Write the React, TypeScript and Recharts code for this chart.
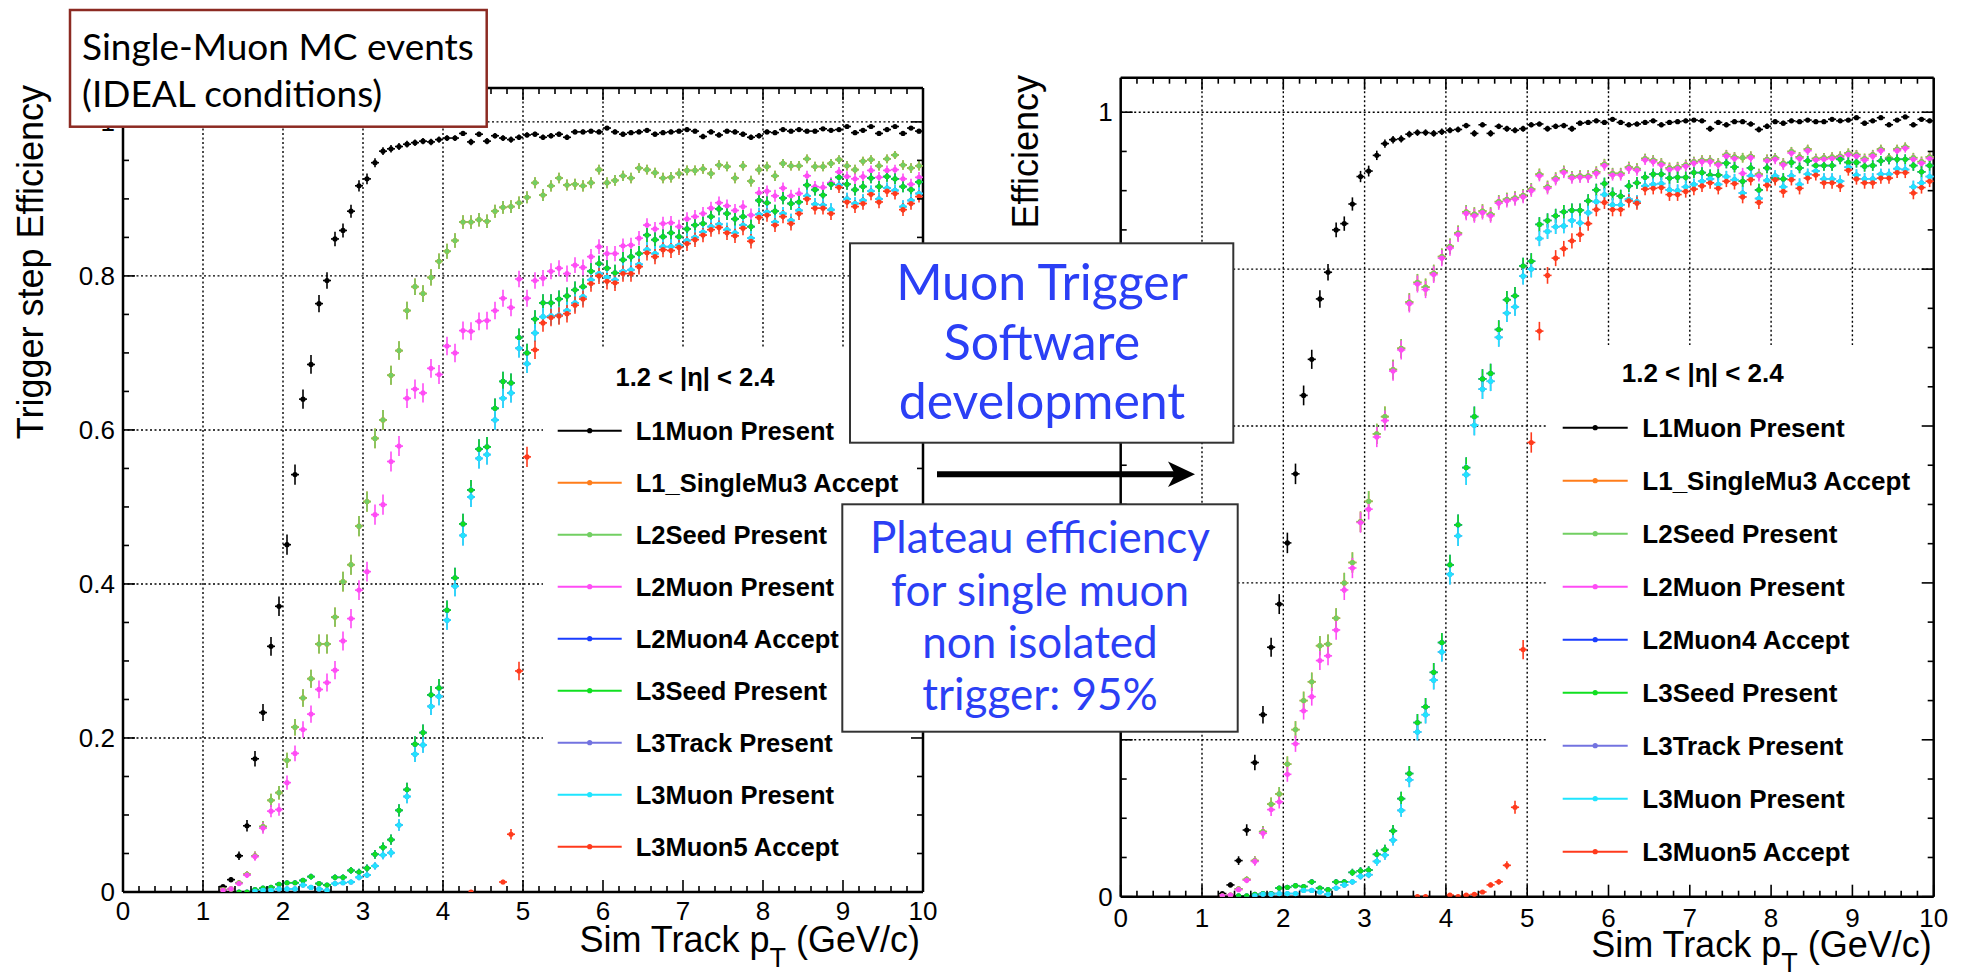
import React from 'react';
import {
  ScatterChart,
  Scatter,
  XAxis,
  YAxis,
  CartesianGrid,
  ErrorBar,
  ReferenceArea,
  ReferenceLine,
} from 'recharts';

const _ = null;

// ---------------------------------------------------------------------------
// Binning: 0.1 GeV/c wide pT bins, centres from 1.25 to 9.95 GeV/c
// ---------------------------------------------------------------------------
const PT_BINS: number[] = Array.from({ length: 88 }, (_v, i) => Math.round((1.25 + 0.1 * i) * 100) / 100);
const BIN_HALF_WIDTH = 0.05;
const EVENTS_PER_BIN = 1450;
const X_MAX = 10;
const Y_MAX = 1.044;

// ---------------------------------------------------------------------------
// Axis ticks and labels
// ---------------------------------------------------------------------------
const X_TICKS: number[] = Array.from({ length: 51 }, (_v, i) => Math.round(i * 0.2 * 100) / 100);
const Y_TICKS: number[] = Array.from({ length: 21 }, (_v, i) => Math.round(i * 0.05 * 100) / 100);
const X_LABELS: string[] = ['0', '1', '2', '3', '4', '5', '6', '7', '8', '9', '10'];
const LEFT_Y_LABELS: { value: number; label: string }[] = [
  { value: 0, label: '0' },
  { value: 0.2, label: '0.2' },
  { value: 0.4, label: '0.4' },
  { value: 0.6, label: '0.6' },
  { value: 0.8, label: '0.8' },
  { value: 1, label: '1' },
];
const RIGHT_Y_LABELS: { value: number; label: string }[] = [
  { value: 0, label: '0' },
  { value: 1, label: '1' },
];
const GRID_X: number[] = [1, 2, 3, 4, 5, 6, 7, 8, 9];
const GRID_Y: number[] = [0.2, 0.4, 0.6, 0.8, 1.0];

// ---------------------------------------------------------------------------
// Trigger steps
// ---------------------------------------------------------------------------
const SERIES_NAMES: string[] = [
  'L1Muon Present',
  'L1_SingleMu3 Accept',
  'L2Seed Present',
  'L2Muon Present',
  'L2Muon4 Accept',
  'L3Seed Present',
  'L3Track Present',
  'L3Muon Present',
  'L3Muon5 Accept',
];
const SERIES_COLORS: string[] = [
  '#000000',
  '#ff7d1a',
  '#72cf62',
  '#ff4cf5',
  '#1a3dff',
  '#10e020',
  '#7373e0',
  '#1fe5ff',
  '#ff3a1c',
];

// ---------------------------------------------------------------------------
// Efficiencies, left panel (before development)
// ---------------------------------------------------------------------------
const LEFT_L1MUON: (number | null)[] = [
  0.007, 0.016, 0.047, 0.086, 0.173, 0.233, 0.319, 0.371, 0.451, 0.542,
  0.640, 0.685, 0.764, 0.794, 0.848, 0.859, 0.884, 0.917, 0.926, 0.947,
  0.962, 0.965, 0.968, 0.971, 0.973, 0.975, 0.974, 0.977, 0.979, 0.979,
  0.985, 0.974, 0.984, 0.975, 0.982, 0.979, 0.977, 0.980, 0.983, 0.984,
  0.980, 0.982, 0.984, 0.980, 0.987, 0.987, 0.988, 0.987, 0.992, 0.987,
  0.984, 0.986, 0.987, 0.989, 0.984, 0.986, 0.987, 0.988, 0.990, 0.988,
  0.981, 0.987, 0.983, 0.988, 0.987, 0.984, 0.980, 0.982, 0.987, 0.986,
  0.990, 0.988, 0.990, 0.988, 0.988, 0.991, 0.989, 0.990, 0.994, 0.986,
  0.989, 0.994, 0.985, 0.990, 0.994, 0.985, 0.992, 0.988,
];
const LEFT_L2SEED: (number | null)[] = [
  0.003, 0.004, 0.012, 0.023, 0.047, 0.085, 0.119, 0.129, 0.171, 0.214,
  0.252, 0.277, 0.322, 0.322, 0.357, 0.403, 0.425, 0.475, 0.507, 0.589,
  0.613, 0.671, 0.703, 0.755, 0.786, 0.777, 0.798, 0.819, 0.832, 0.846,
  0.870, 0.870, 0.873, 0.871, 0.884, 0.889, 0.890, 0.895, 0.902, 0.921,
  0.905, 0.917, 0.927, 0.918, 0.919, 0.917, 0.921, 0.938, 0.921, 0.924,
  0.930, 0.927, 0.940, 0.938, 0.934, 0.927, 0.928, 0.933, 0.937, 0.937,
  0.939, 0.933, 0.944, 0.942, 0.927, 0.943, 0.923, 0.938, 0.942, 0.930,
  0.946, 0.943, 0.943, 0.952, 0.942, 0.942, 0.946, 0.951, 0.943, 0.938,
  0.949, 0.951, 0.943, 0.952, 0.957, 0.944, 0.940, 0.943,
];
const LEFT_L2MUON: (number | null)[] = [
  0.002, 0.004, 0.011, 0.022, 0.046, 0.083, 0.105, 0.107, 0.142, 0.180,
  0.211, 0.231, 0.263, 0.272, 0.288, 0.326, 0.355, 0.392, 0.416, 0.490,
  0.503, 0.559, 0.579, 0.641, 0.653, 0.648, 0.680, 0.672, 0.709, 0.700,
  0.729, 0.728, 0.741, 0.742, 0.755, 0.771, 0.759, 0.796, 0.771, 0.794,
  0.797, 0.806, 0.810, 0.803, 0.814, 0.811, 0.825, 0.838, 0.829, 0.829,
  0.839, 0.840, 0.849, 0.866, 0.861, 0.868, 0.869, 0.864, 0.874, 0.877,
  0.881, 0.888, 0.895, 0.891, 0.885, 0.890, 0.879, 0.908, 0.910, 0.904,
  0.914, 0.904, 0.907, 0.930, 0.916, 0.915, 0.921, 0.935, 0.929, 0.926,
  0.929, 0.937, 0.928, 0.937, 0.938, 0.926, 0.919, 0.928,
];
const LEFT_L3SEED: (number | null)[] = [
  _, _, 0.000, 0.000, 0.003, 0.005, 0.006, 0.010, 0.012, 0.012,
  0.015, 0.020, 0.011, 0.009, 0.019, 0.019, 0.028, 0.026, 0.031, 0.049,
  0.058, 0.068, 0.106, 0.133, 0.192, 0.207, 0.256, 0.265, 0.366, 0.408,
  0.478, 0.522, 0.575, 0.578, 0.628, 0.663, 0.661, 0.720, 0.700, 0.744,
  0.765, 0.765, 0.770, 0.774, 0.782, 0.786, 0.806, 0.816, 0.810, 0.804,
  0.821, 0.825, 0.829, 0.853, 0.847, 0.851, 0.856, 0.851, 0.861, 0.866,
  0.868, 0.877, 0.887, 0.881, 0.874, 0.877, 0.864, 0.898, 0.895, 0.884,
  0.901, 0.894, 0.896, 0.918, 0.912, 0.905, 0.919, 0.928, 0.919, 0.912,
  0.916, 0.927, 0.916, 0.929, 0.926, 0.916, 0.912, 0.922,
];
const LEFT_L3MUON: (number | null)[] = [
  _, _, _, _, 0.001, 0.002, 0.002, 0.004, 0.004, 0.004,
  0.009, 0.006, 0.004, 0.002, 0.011, 0.012, 0.013, 0.019, 0.022, 0.034,
  0.048, 0.051, 0.087, 0.124, 0.179, 0.191, 0.241, 0.254, 0.353, 0.397,
  0.463, 0.513, 0.563, 0.568, 0.613, 0.641, 0.648, 0.706, 0.686, 0.726,
  0.747, 0.748, 0.749, 0.755, 0.765, 0.773, 0.795, 0.803, 0.798, 0.795,
  0.806, 0.808, 0.815, 0.834, 0.829, 0.838, 0.838, 0.840, 0.846, 0.850,
  0.857, 0.864, 0.867, 0.860, 0.856, 0.866, 0.849, 0.880, 0.883, 0.870,
  0.881, 0.872, 0.885, 0.904, 0.893, 0.892, 0.886, 0.918, 0.900, 0.894,
  0.898, 0.910, 0.900, 0.914, 0.911, 0.890, 0.898, 0.907,
];
const LEFT_L3MUON5: (number | null)[] = [
  _, _, _, _, _, _, _, _, _, _,
  _, _, _, _, _, _, _, _, _, _,
  _, _, _, _, _, _, _, _, _, _,
  _, 0.000, _, _, _, 0.013, 0.075, 0.287, 0.565, 0.704,
  0.739, 0.746, 0.748, 0.751, 0.762, 0.770, 0.790, 0.800, 0.793, 0.791,
  0.803, 0.803, 0.812, 0.830, 0.825, 0.834, 0.833, 0.837, 0.842, 0.847,
  0.853, 0.860, 0.863, 0.856, 0.852, 0.862, 0.845, 0.876, 0.879, 0.866,
  0.877, 0.868, 0.881, 0.900, 0.888, 0.888, 0.881, 0.915, 0.896, 0.890,
  0.894, 0.906, 0.896, 0.910, 0.907, 0.886, 0.894, 0.903,
];

// ---------------------------------------------------------------------------
// Efficiencies, right panel (after development)
// ---------------------------------------------------------------------------
const RIGHT_L1MUON: (number | null)[] = [
  0.004, 0.015, 0.046, 0.085, 0.171, 0.232, 0.318, 0.373, 0.451, 0.539,
  0.639, 0.685, 0.762, 0.796, 0.850, 0.858, 0.883, 0.918, 0.925, 0.945,
  0.960, 0.965, 0.966, 0.972, 0.974, 0.974, 0.973, 0.975, 0.977, 0.978,
  0.983, 0.973, 0.984, 0.973, 0.982, 0.979, 0.977, 0.979, 0.984, 0.985,
  0.979, 0.982, 0.983, 0.979, 0.986, 0.987, 0.989, 0.987, 0.991, 0.987,
  0.984, 0.985, 0.987, 0.989, 0.984, 0.987, 0.988, 0.989, 0.990, 0.989,
  0.979, 0.987, 0.984, 0.988, 0.988, 0.985, 0.978, 0.982, 0.988, 0.986,
  0.989, 0.988, 0.990, 0.988, 0.988, 0.991, 0.989, 0.990, 0.993, 0.986,
  0.989, 0.993, 0.984, 0.990, 0.994, 0.984, 0.991, 0.989,
];
const RIGHT_L2SEED: (number | null)[] = [
  0.001, 0.002, 0.010, 0.022, 0.046, 0.083, 0.118, 0.131, 0.169, 0.213,
  0.250, 0.274, 0.320, 0.322, 0.355, 0.400, 0.426, 0.478, 0.504, 0.590,
  0.612, 0.672, 0.699, 0.758, 0.783, 0.777, 0.795, 0.816, 0.829, 0.846,
  0.873, 0.870, 0.874, 0.870, 0.886, 0.889, 0.891, 0.894, 0.902, 0.921,
  0.905, 0.916, 0.925, 0.918, 0.919, 0.919, 0.924, 0.934, 0.922, 0.922,
  0.930, 0.928, 0.941, 0.939, 0.935, 0.929, 0.930, 0.933, 0.937, 0.939,
  0.939, 0.935, 0.946, 0.943, 0.942, 0.944, 0.921, 0.940, 0.942, 0.935,
  0.950, 0.943, 0.953, 0.941, 0.942, 0.943, 0.944, 0.948, 0.946, 0.941,
  0.946, 0.953, 0.942, 0.953, 0.956, 0.942, 0.937, 0.943,
];
const RIGHT_L2MUON: (number | null)[] = [
  0.001, 0.002, 0.009, 0.021, 0.045, 0.081, 0.111, 0.121, 0.156, 0.195,
  0.237, 0.255, 0.301, 0.307, 0.340, 0.391, 0.419, 0.477, 0.494, 0.586,
  0.607, 0.670, 0.697, 0.756, 0.781, 0.774, 0.793, 0.814, 0.827, 0.844,
  0.871, 0.868, 0.872, 0.868, 0.884, 0.887, 0.889, 0.892, 0.900, 0.919,
  0.903, 0.914, 0.923, 0.916, 0.917, 0.917, 0.922, 0.932, 0.920, 0.920,
  0.928, 0.926, 0.939, 0.937, 0.933, 0.927, 0.928, 0.931, 0.935, 0.937,
  0.937, 0.933, 0.944, 0.941, 0.922, 0.942, 0.919, 0.938, 0.940, 0.933,
  0.948, 0.941, 0.951, 0.939, 0.940, 0.941, 0.942, 0.946, 0.944, 0.939,
  0.944, 0.951, 0.940, 0.951, 0.954, 0.940, 0.935, 0.941,
];
const RIGHT_L3SEED: (number | null)[] = [
  _, _, 0.001, 0.001, 0.003, 0.004, 0.004, 0.011, 0.012, 0.014,
  0.013, 0.019, 0.011, 0.009, 0.019, 0.019, 0.031, 0.033, 0.034, 0.054,
  0.060, 0.084, 0.125, 0.157, 0.222, 0.242, 0.286, 0.324, 0.423, 0.474,
  0.547, 0.612, 0.660, 0.667, 0.723, 0.761, 0.766, 0.804, 0.810, 0.857,
  0.862, 0.868, 0.873, 0.875, 0.875, 0.887, 0.901, 0.909, 0.896, 0.893,
  0.906, 0.910, 0.917, 0.921, 0.921, 0.916, 0.917, 0.917, 0.923, 0.923,
  0.920, 0.920, 0.935, 0.930, 0.912, 0.929, 0.901, 0.929, 0.916, 0.915,
  0.936, 0.929, 0.938, 0.932, 0.932, 0.932, 0.940, 0.936, 0.936, 0.931,
  0.932, 0.938, 0.940, 0.940, 0.940, 0.932, 0.924, 0.932,
];
const RIGHT_L3MUON: (number | null)[] = [
  _, _, _, _, 0.001, 0.003, 0.003, 0.004, 0.004, 0.004,
  0.008, 0.008, 0.006, 0.003, 0.011, 0.015, 0.019, 0.026, 0.028, 0.045,
  0.053, 0.072, 0.110, 0.149, 0.210, 0.232, 0.276, 0.312, 0.411, 0.460,
  0.538, 0.601, 0.647, 0.657, 0.713, 0.744, 0.752, 0.791, 0.800, 0.839,
  0.848, 0.854, 0.855, 0.862, 0.859, 0.872, 0.886, 0.895, 0.882, 0.882,
  0.889, 0.886, 0.906, 0.908, 0.909, 0.901, 0.900, 0.905, 0.908, 0.912,
  0.915, 0.908, 0.918, 0.914, 0.897, 0.919, 0.890, 0.913, 0.919, 0.905,
  0.919, 0.908, 0.921, 0.925, 0.915, 0.915, 0.912, 0.930, 0.920, 0.915,
  0.915, 0.921, 0.921, 0.928, 0.927, 0.905, 0.910, 0.918,
];
const RIGHT_L3MUON5: (number | null)[] = [
  _, _, _, _, _, _, _, _, _, _,
  _, _, _, _, _, _, _, _, _, _,
  _, _, _, _, 0.000, 0.000, _, _, 0.002, 0.000,
  0.002, 0.003, 0.006, 0.015, 0.019, 0.040, 0.114, 0.315, 0.579, 0.721,
  0.792, 0.814, 0.826, 0.836, 0.844, 0.858, 0.876, 0.885, 0.876, 0.876,
  0.887, 0.884, 0.902, 0.903, 0.904, 0.895, 0.895, 0.899, 0.902, 0.906,
  0.910, 0.903, 0.912, 0.909, 0.892, 0.914, 0.885, 0.907, 0.914, 0.899,
  0.914, 0.903, 0.916, 0.920, 0.910, 0.910, 0.906, 0.926, 0.915, 0.910,
  0.910, 0.916, 0.916, 0.923, 0.923, 0.897, 0.904, 0.912,
];

// The L1_SingleMu3 accepts coincide with the L2 seeds, the L2Muon4 accepts
// with the L3 seeds and the L3 tracks with the L3 muons, bin by bin.
const LEFT_VALUES = [
  LEFT_L1MUON, LEFT_L2SEED, LEFT_L2SEED, LEFT_L2MUON, LEFT_L3SEED,
  LEFT_L3SEED, LEFT_L3MUON, LEFT_L3MUON, LEFT_L3MUON5,
];
const RIGHT_VALUES = [
  RIGHT_L1MUON, RIGHT_L2SEED, RIGHT_L2SEED, RIGHT_L2MUON, RIGHT_L3SEED,
  RIGHT_L3SEED, RIGHT_L3MUON, RIGHT_L3MUON, RIGHT_L3MUON5,
];

// ---------------------------------------------------------------------------
// Styling / layout (page coordinates)
// ---------------------------------------------------------------------------
const FONT_ROOT = '"Liberation Sans", Arial, Helvetica, sans-serif';
const FONT_SLIDE = 'Lato, "Open Sans", sans-serif';
const TEXT_BLUE = '#2b3ff5';
const MARKER_R = 2.6;
const AXIS_BAND = 1; // thickness given to the axis boxes themselves

type Plot = { left: number; top: number; right: number; bottom: number };
type PanelLayout = {
  chartLeft: number;
  width: number;
  height: number;
  plot: Plot;
  xLabelDy: number;
  yLabels: { value: number; label: string }[];
  yTitle: { x: number; y: number; text: string };
  xTitle: { x: number; y: number };
  legend: {
    boxLeft: number;
    boxTop: number;
    titleX: number;
    titleY: number;
    firstY: number;
    stepY: number;
    lineX1: number;
    lineX2: number;
    textX: number;
    fontSize: number;
  };
};

const LEFT_PANEL: PanelLayout = {
  chartLeft: 0,
  width: 960,
  height: 974,
  plot: { left: 123, top: 88, right: 923, bottom: 892 },
  xLabelDy: 28,
  yLabels: LEFT_Y_LABELS,
  yTitle: { x: 43, y: 85, text: 'Trigger step Efficiency' },
  xTitle: { x: 920, y: 952 },
  legend: {
    boxLeft: 543, boxTop: 348, titleX: 695, titleY: 386, firstY: 430.7, stepY: 52,
    lineX1: 557.7, lineX2: 621.7, textX: 635.7, fontSize: 25.5,
  },
};

const RIGHT_PANEL: PanelLayout = {
  chartLeft: 980,
  width: 982,
  height: 974,
  plot: { left: 1120.7, top: 77.7, right: 1933.7, bottom: 896.7 },
  xLabelDy: 30,
  yLabels: RIGHT_Y_LABELS,
  yTitle: { x: 1038, y: 75, text: 'Efficiency' },
  xTitle: { x: 1931.7, y: 957 },
  legend: {
    boxLeft: 1548, boxTop: 345, titleX: 1702.7, titleY: 382, firstY: 427.7, stepY: 53,
    lineX1: 1562.7, lineX2: 1627.7, textX: 1642.3, fontSize: 26,
  },
};

type Point = { x: number; y: number; ex: number; ey: [number, number] };

function toPoints(values: (number | null)[]): Point[] {
  const pts: Point[] = [];
  PT_BINS.forEach((x, i) => {
    const y = values[i];
    if (y === null || y === undefined) return;
    const err = Math.sqrt(Math.max(y * (1 - y), 1 / EVENTS_PER_BIN) / EVENTS_PER_BIN);
    pts.push({ x, y, ex: BIN_HALF_WIDTH, ey: [Math.min(err, y), Math.min(err, 1 - y + 0.004)] });
  });
  return pts;
}

// tick renderers work in the chart's own SVG coordinates
function makeXTick(plot: Plot, labelDy: number) {
  return (props: any) => {
    const { x, payload } = props;
    const v = payload.value as number;
    const major = Math.abs(v - Math.round(v)) < 1e-6;
    const len = major ? 12 : 6;
    return (
      <g>
        <line x1={x} x2={x} y1={plot.bottom} y2={plot.bottom - len} stroke="#000" strokeWidth={1.6} />
        <line x1={x} x2={x} y1={plot.top} y2={plot.top + len} stroke="#000" strokeWidth={1.6} />
        {major && (
          <text x={x} y={plot.bottom + labelDy} textAnchor="middle" fontFamily={FONT_ROOT} fontSize={26} fill="#000">
            {X_LABELS[Math.round(v)]}
          </text>
        )}
      </g>
    );
  };
}

function makeYTick(plot: Plot, labels: { value: number; label: string }[]) {
  return (props: any) => {
    const { y, payload } = props;
    const v = payload.value as number;
    const major = Math.abs(v * 5 - Math.round(v * 5)) < 1e-6;
    const len = major ? 12 : 6;
    const lab = labels.find((l) => Math.abs(l.value - v) < 1e-6);
    return (
      <g>
        <line x1={plot.left} x2={plot.left + len} y1={y} y2={y} stroke="#000" strokeWidth={1.6} />
        <line x1={plot.right} x2={plot.right - len} y1={y} y2={y} stroke="#000" strokeWidth={1.6} />
        {lab && (
          <text x={plot.left - 8} y={y + 9} textAnchor="end" fontFamily={FONT_ROOT} fontSize={26} fill="#000">
            {lab.label}
          </text>
        )}
      </g>
    );
  };
}

function Panel({ layout, values }: { layout: PanelLayout; values: (number | null)[][] }) {
  const { chartLeft, width, height, plot, legend } = layout;
  const local: Plot = {
    left: plot.left - chartLeft,
    right: plot.right - chartLeft,
    top: plot.top,
    bottom: plot.bottom,
  };
  const margin = {
    top: plot.top,
    left: local.left - AXIS_BAND,
    right: width - local.right,
    bottom: height - plot.bottom - AXIS_BAND,
  };
  // white legend pad hides the grid underneath the legend
  const padX = ((legend.boxLeft - plot.left) / (plot.right - plot.left)) * X_MAX;
  const padY = ((plot.bottom - legend.boxTop) / (plot.bottom - plot.top)) * Y_MAX;
  return (
    <div style={{ position: 'absolute', left: chartLeft, top: 0, width, height }}>
      <ScatterChart width={width} height={height} margin={margin}>
        <CartesianGrid
          verticalValues={GRID_X}
          horizontalValues={GRID_Y}
          stroke="#000"
          strokeDasharray="2 2.5"
          strokeWidth={1.4}
        />
        <ReferenceArea x1={padX} x2={X_MAX} y1={0} y2={padY} fill="#fff" fillOpacity={1} stroke="none" />
        <XAxis
          type="number"
          dataKey="x"
          domain={[0, X_MAX]}
          allowDataOverflow
          ticks={X_TICKS}
          interval={0}
          height={AXIS_BAND}
          tickLine={false}
          axisLine={{ stroke: '#000', strokeWidth: 2.5 }}
          tick={makeXTick(local, layout.xLabelDy)}
        />
        <YAxis
          type="number"
          dataKey="y"
          domain={[0, Y_MAX]}
          allowDataOverflow
          ticks={Y_TICKS}
          interval={0}
          width={AXIS_BAND}
          tickLine={false}
          axisLine={{ stroke: '#000', strokeWidth: 2.5 }}
          tick={makeYTick(local, layout.yLabels)}
        />
        <ReferenceLine y={Y_MAX} stroke="#000" strokeWidth={2.5} />
        <ReferenceLine x={X_MAX} stroke="#000" strokeWidth={2.5} />
        {SERIES_NAMES.map((name, si) => {
          const color = SERIES_COLORS[si];
          return (
            <Scatter
              key={name}
              name={name}
              data={toPoints(values[si])}
              fill={color}
              isAnimationActive={false}
              shape={(p: any) => <circle cx={p.cx} cy={p.cy} r={MARKER_R} fill={color} />}
            >
              <ErrorBar dataKey="ey" direction="y" width={0} stroke={color} strokeWidth={1.6} isAnimationActive={false} />
              <ErrorBar dataKey="ex" direction="x" width={0} stroke={color} strokeWidth={1.6} isAnimationActive={false} />
            </Scatter>
          );
        })}
      </ScatterChart>
    </div>
  );
}

function PanelText({ layout }: { layout: PanelLayout }) {
  const { legend, yTitle, xTitle } = layout;
  return (
    <g>
      <text
        transform={`translate(${yTitle.x},${yTitle.y}) rotate(-90)`}
        textAnchor="end"
        fontFamily={FONT_ROOT}
        fontSize={36}
        fill="#000"
      >
        {yTitle.text}
      </text>
      <text x={xTitle.x} y={xTitle.y} textAnchor="end" fontFamily={FONT_ROOT} fontSize={36} fill="#000">
        Sim Track p
        <tspan dy={15} fontSize={27}>T</tspan>
        <tspan dy={-15}> (GeV/c)</tspan>
      </text>
      <text
        x={legend.titleX}
        y={legend.titleY}
        textAnchor="middle"
        fontFamily={FONT_ROOT}
        fontWeight="bold"
        fontSize={legend.fontSize}
        fill="#000"
      >
        1.2 &lt; |η| &lt; 2.4
      </text>
      {SERIES_NAMES.map((name, si) => {
        const y = legend.firstY + si * legend.stepY;
        const color = SERIES_COLORS[si];
        return (
          <g key={name}>
            <line x1={legend.lineX1} x2={legend.lineX2} y1={y} y2={y} stroke={color} strokeWidth={2} />
            <circle cx={(legend.lineX1 + legend.lineX2) / 2} cy={y} r={MARKER_R} fill={color} />
            <text
              x={legend.textX}
              y={y + 9}
              fontFamily={FONT_ROOT}
              fontWeight="bold"
              fontSize={legend.fontSize}
              fill="#000"
            >
              {name}
            </text>
          </g>
        );
      })}
    </g>
  );
}

const SAMPLE_NOTE: string[] = ['Single-Muon MC events', '(IDEAL conditions)'];
const DEV_NOTE: string[] = ['Muon Trigger', 'Software', 'development'];
const PLATEAU_NOTE: string[] = ['Plateau efficiency', 'for single muon', 'non isolated', 'trigger: 95%'];

export default function App() {
  return (
    <div style={{ position: 'absolute', left: 0, top: 0, width: 1962, height: 974, background: '#fff', overflow: 'hidden' }}>
      <Panel layout={LEFT_PANEL} values={LEFT_VALUES} />
      <Panel layout={RIGHT_PANEL} values={RIGHT_VALUES} />
      <svg
        width={1962}
        height={974}
        style={{ position: 'absolute', left: 0, top: 0, pointerEvents: 'none' }}
      >
        <PanelText layout={LEFT_PANEL} />
        <PanelText layout={RIGHT_PANEL} />

        {/* sample description */}
        <rect x={70} y={10} width={416.7} height={116.7} fill="#fff" stroke="#8c2a22" strokeWidth={2.5} />
        {SAMPLE_NOTE.map((t, i) => (
          <text key={t} x={82} y={60 + i * 47} fontFamily={FONT_SLIDE} fontSize={37} fill="#000">
            {t}
          </text>
        ))}

        {/* development note */}
        <rect x={850} y={243.3} width={383.3} height={199.4} fill="#fff" stroke="#333" strokeWidth={2} />
        {DEV_NOTE.map((t, i) => (
          <text key={t} x={1042} y={300 + i * 59.7} textAnchor="middle" fontFamily={FONT_SLIDE} fontSize={50} fill={TEXT_BLUE}>
            {t}
          </text>
        ))}

        {/* arrow from the old to the new performance */}
        <line x1={937} x2={1178} y1={474.3} y2={474.3} stroke="#000" strokeWidth={6} />
        <polygon points="1195,474.3 1168,461.5 1175,474.3 1168,487" fill="#000" />

        {/* plateau note */}
        <rect x={842.3} y={504.3} width={395.4} height={227.4} fill="#fff" stroke="#333" strokeWidth={2} />
        {PLATEAU_NOTE.map((t, i) => (
          <text key={t} x={1040} y={553.3 + i * 52.2} textAnchor="middle" fontFamily={FONT_SLIDE} fontSize={44} fill={TEXT_BLUE}>
            {t}
          </text>
        ))}
      </svg>
    </div>
  );
}
